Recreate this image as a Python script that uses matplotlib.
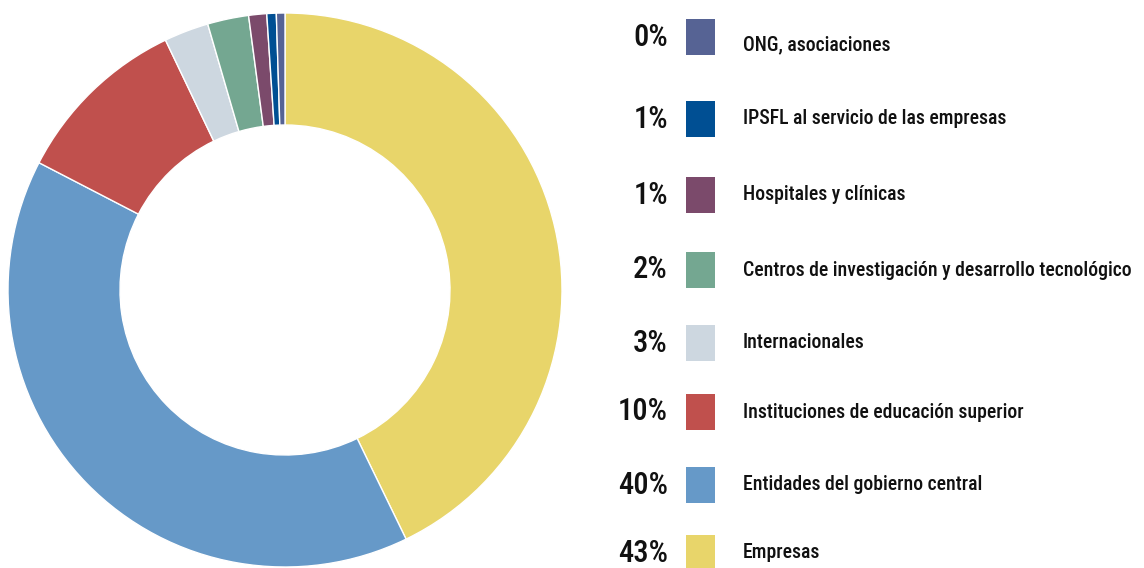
import matplotlib
matplotlib.use("Agg")
import matplotlib.pyplot as plt

categories = ["Empresas", "Entidades del gobierno central", "Instituciones de educación superior",
              "Internacionales", "Centros de investigación y desarrollo tecnológico",
              "Hospitales y clínicas", "IPSFL al servicio de las empresas", "ONG, asociaciones"]
values = [42.8, 39.8, 10.3, 2.6, 2.4, 1.05, 0.55, 0.5]
pct_labels = ["43%", "40%", "10%", "3%", "2%", "1%", "1%", "0%"]
colors = ["#E8D56A", "#6699C8", "#C0504D", "#CDD7E0", "#74A791", "#7B4A6B", "#004F93", "#566394"]

plt.rcParams['font.family'] = ['Roboto Condensed', 'Archivo Narrow', 'DejaVu Sans']

W, H = 1144, 568
fig = plt.figure(figsize=(W / 100, H / 100), dpi=100)

ax = fig.add_axes([8 / W, 1 / H, 554 / W, 554 / H])
ax.pie(values, colors=colors, startangle=90, counterclock=False, radius=1,
       wedgeprops=dict(width=1 - 165 / 277, edgecolor="white", linewidth=1))
ax.set_xlim(-1, 1)
ax.set_ylim(-1, 1)
ax.axis("off")

lax = fig.add_axes([0, 0, 1, 1])
lax.set_xlim(0, W)
lax.set_ylim(H, 0)
lax.axis("off")
row_y = [553, 485, 412, 343, 270, 195, 119, 37]
for name, pct, col, y in zip(categories, pct_labels, colors, row_y):
    lax.add_patch(plt.Rectangle((686, y - 18), 29, 36, facecolor=col, edgecolor="none"))
    lax.text(668, y, pct, ha="right", va="center", fontsize=22, fontweight=500, color="#111111")
    ly = y + 8 if name.startswith("ONG") else y
    lax.text(743, ly, name, ha="left", va="center", fontsize=14.2, fontweight=500, color="#111111")

fig.savefig("out.png", dpi=100)
